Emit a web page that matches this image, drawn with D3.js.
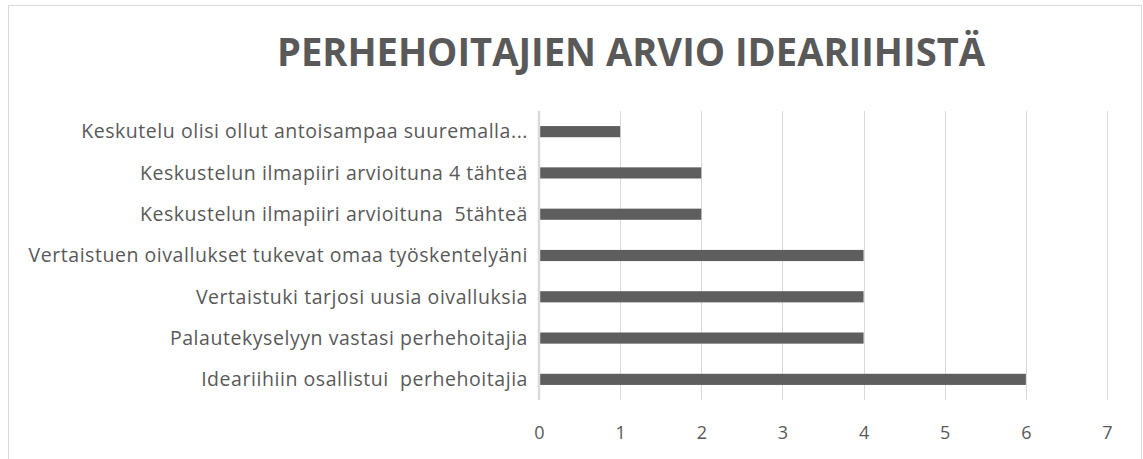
<!DOCTYPE html>
<html>
<head>
<meta charset="utf-8">
<script src="https://cdn.jsdelivr.net/npm/d3@7"></script>
<style>
  body { margin: 0; background: #fff; }
  text { fill: #595959; }
</style>
</head>
<body>
<div id="chart"></div>
<script>
var categories = [
  "Keskutelu olisi ollut antoisampaa suuremalla...",
  "Keskustelun ilmapiiri arvioituna 4 tähteä",
  "Keskustelun ilmapiiri arvioituna  5tähteä",
  "Vertaistuen oivallukset tukevat omaa työskentelyäni",
  "Vertaistuki tarjosi uusia oivalluksia",
  "Palautekyselyyn vastasi perhehoitajia",
  "Ideariihiin osallistui  perhehoitajia"
];
var values = [1, 2, 2, 4, 4, 4, 6];
var ticks = [0, 1, 2, 3, 4, 5, 6, 7];
var title = "PERHEHOITAJIEN ARVIO IDEARIIHISTÄ";

var W = 1143, H = 459,
    m = [111, 36, 59, 539]; // top right bottom left

var svg = d3.select("#chart").append("svg")
    .attr("width", W)
    .attr("height", H);

// chart frame
svg.append("rect")
    .attr("x", 8.5).attr("y", 5.5)
    .attr("width", 1133).attr("height", 470)
    .attr("fill", "none")
    .attr("stroke", "#d9d9d9");

svg.append("text")
    .attr("x", 631).attr("y", 66)
    .attr("text-anchor", "middle")
    .style("font-family", "'Open Sans', sans-serif")
    .style("font-weight", 700)
    .style("font-size", "40px")
    .attr("textLength", 708)
    .attr("lengthAdjust", "spacingAndGlyphs")
    .text(title);

var x = d3.scaleLinear().domain([0, 7]).range([m[3], W - m[1]]);
var y = d3.scaleBand().domain(categories).range([m[0], H - m[2]]).paddingInner(0.73).paddingOuter(0.365);

var g = svg.append("g");

// gridlines
g.selectAll("line.grid")
    .data(ticks.slice(1))
  .enter().append("line")
    .attr("class", "grid")
    .attr("x1", function(d) { return Math.round(x(d)) + 0.5; })
    .attr("x2", function(d) { return Math.round(x(d)) + 0.5; })
    .attr("y1", m[0])
    .attr("y2", H - m[2])
    .attr("stroke", "#d9d9d9")
    .attr("stroke-width", 1);

g.selectAll("rect.bar")
    .data(values)
  .enter().append("rect")
    .attr("class", "bar")
    .attr("x", x(0))
    .attr("y", function(d, i) { return y(categories[i]); })
    .attr("width", function(d) { return x(d) - x(0); })
    .attr("height", y.bandwidth())
    .attr("fill", "#5e5e5e");

// category axis line
g.append("line")
    .attr("x1", x(0)).attr("x2", x(0))
    .attr("y1", m[0]).attr("y2", H - m[2])
    .attr("stroke", "#d9d9d9")
    .attr("stroke-width", 2.5);

g.selectAll("text.cat")
    .data(categories)
  .enter().append("text")
    .attr("class", "cat")
    .attr("x", 528)
    .attr("y", function(d) { return y(d) + y.bandwidth() / 2; })
    .attr("dy", "0.35em")
    .attr("text-anchor", "end")
    .style("font-family", "'Open Sans', sans-serif")
    .style("font-size", "19.5px")
    .style("letter-spacing", "0.55px")
    .style("white-space", "pre")
    .text(function(d) { return d; });

var xAxis = d3.axisBottom(x).tickValues(ticks).tickFormat(d3.format("d")).tickSize(0).tickPadding(0);
var ax = svg.append("g")
    .attr("transform", "translate(0," + 439 + ")")
    .call(xAxis);
ax.select(".domain").remove();
ax.selectAll("text")
    .attr("y", 0)
    .attr("dy", 0)
    .style("font-family", "'Open Sans', sans-serif")
    .style("font-size", "18px")
    .style("fill", "#595959");
</script>
</body>
</html>
